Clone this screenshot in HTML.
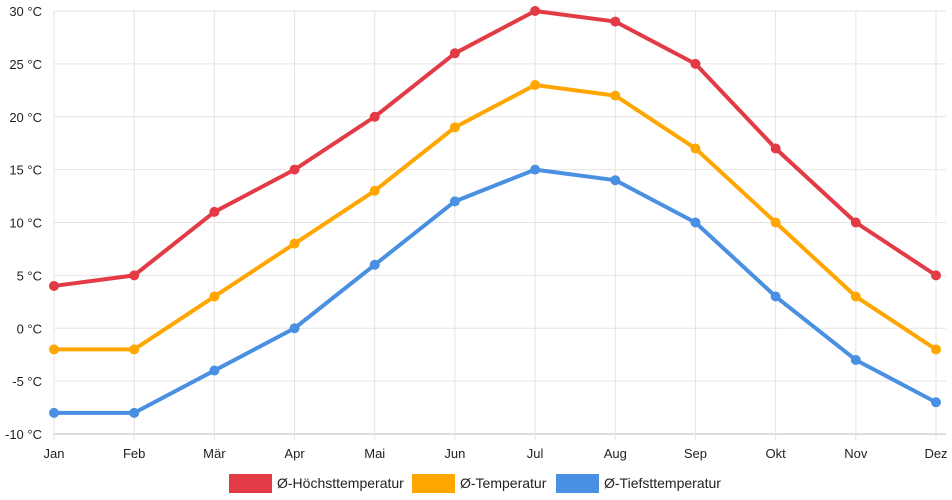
<!DOCTYPE html>
<html><head><meta charset="utf-8"><style>
body{margin:0;background:#fff;font-family:"Liberation Sans",sans-serif}
</style></head><body>
<svg id="c" width="952" height="500" style="display:block"></svg>
<script>
const months=["Jan","Feb","Mär","Apr","Mai","Jun","Jul","Aug","Sep","Okt","Nov","Dez"];
const highs=[4,5,11,15,20,26,30,29,25,17,10,5];
const means=[-2,-2,3,8,13,19,23,22,17,10,3,-2];
const lows=[-8,-8,-4,0,6,12,15,14,10,3,-3,-7];
const yTicks=[-10,-5,0,5,10,15,20,25,30];
const seriesNames=["Ø-Höchsttemperatur","Ø-Temperatur","Ø-Tiefsttemperatur"];
const NS="http://www.w3.org/2000/svg";
const svg=document.getElementById('c');
const x0=54,x1=936,yTop=11,yBot=434;
const xs=i=>x0+i*(x1-x0)/(months.length-1);
const ys=v=>yBot-(v+10)/40*(yBot-yTop);
function el(t,a,p){const e=document.createElementNS(NS,t);for(const k in a)e.setAttribute(k,a[k]);(p||svg).appendChild(e);return e;}
const grid=el('g',{});


yTicks.forEach(v=>{
 const l=el('line',{x1:x0,x2:x1+10,y1:ys(v),y2:ys(v),stroke:v===-10?'#bbb':'#e4e4e4','stroke-width':1},grid);
 
 
 const t=el('text',{x:42,y:ys(v)+5,'text-anchor':'end','font-size':13,fill:'#222'});
 t.textContent=v+' °C';
 
 
});
months.forEach((m,i)=>{
 const l=el('line',{x1:xs(i),x2:xs(i),y1:yTop,y2:yBot+6,stroke:'#e4e4e4','stroke-width':1},grid);
 
 
 const t=el('text',{x:xs(i),y:458,'text-anchor':'middle','font-size':13,fill:'#222'});
 t.textContent=m;
 
 
});
const colors=['#e33b46','#ffa600','#4a90e2'];
[highs,means,lows].forEach((d,s)=>{
 const g=el('g',{});
 
 
 const p=el('polyline',{points:d.map((v,i)=>xs(i)+','+ys(v)).join(' '),fill:'none',stroke:colors[s],'stroke-width':4,'stroke-linejoin':'round'},g);
 
 
 d.forEach((v,i)=>{
  const c=el('circle',{cx:xs(i),cy:ys(v),r:5,fill:colors[s]},g);
  
  
 });
});
const lx=[229,412,556];
seriesNames.forEach((n,s)=>{
 const g=el('g',{});
 
 
 el('rect',{x:lx[s],y:474,width:43,height:19,fill:colors[s]},g);
 const t=el('text',{x:lx[s]+48,y:488,'font-size':14,fill:'#222'},g);
 t.textContent=n;
});
</script>
</body></html>
